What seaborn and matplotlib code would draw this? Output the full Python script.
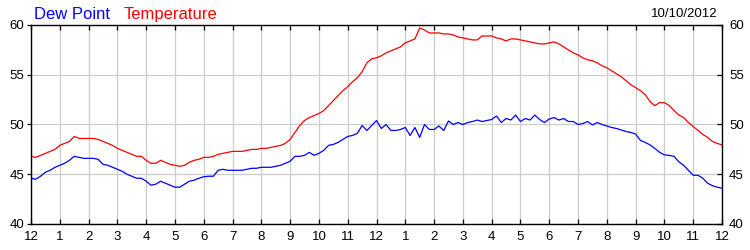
import numpy as np
import pandas as pd
import matplotlib
matplotlib.use("Agg")
import matplotlib.pyplot as plt
import seaborn as sns

# 10-minute readings, midnight to midnight
temperature = [
    46.8, 46.7, 46.9, 47.1, 47.3, 47.5,
    47.9, 48.1, 48.3, 48.8, 48.6, 48.6,
    48.6, 48.6, 48.5, 48.3, 48.1, 47.9,
    47.6, 47.4, 47.2, 47.0, 46.8, 46.8,
    46.4, 46.1, 46.1, 46.4, 46.2, 46.0,
    45.9, 45.8, 45.9, 46.2, 46.4, 46.5,
    46.7, 46.7, 46.8, 47.0, 47.1, 47.2,
    47.3, 47.3, 47.3, 47.4, 47.5, 47.5,
    47.6, 47.6, 47.7, 47.8, 47.9, 48.1,
    48.5, 49.2, 49.9, 50.4, 50.7, 50.9,
    51.1, 51.4, 51.9, 52.4, 52.9, 53.4,
    53.8, 54.3, 54.7, 55.3, 56.2, 56.6,
    56.7, 56.9, 57.2, 57.4, 57.6, 57.8,
    58.2, 58.4, 58.6, 59.7, 59.5, 59.2,
    59.2, 59.2, 59.1, 59.1, 59.0, 58.8,
    58.7, 58.6, 58.5, 58.5, 58.9, 58.9,
    58.9, 58.7, 58.6, 58.4, 58.6, 58.6,
    58.5, 58.4, 58.3, 58.2, 58.1, 58.1,
    58.2, 58.3, 58.1, 57.8, 57.5, 57.2,
    57.0, 56.7, 56.5, 56.4, 56.2, 55.9,
    55.7, 55.4, 55.1, 54.8, 54.4, 54.0,
    53.7, 53.4, 53.0, 52.3, 51.9, 52.2,
    52.2, 51.9, 51.4, 50.95, 50.7, 50.2,
    49.8, 49.4, 49.0, 48.7, 48.3, 48.1,
    47.95,
]
dew_point = [
    44.6, 44.5, 44.8, 45.2, 45.4, 45.7,
    45.9, 46.1, 46.4, 46.8, 46.7, 46.6,
    46.6, 46.6, 46.5, 46.0, 45.9, 45.7,
    45.5, 45.3, 45.0, 44.8, 44.6, 44.6,
    44.3, 43.9, 44.0, 44.3, 44.1, 43.9,
    43.7, 43.7, 44.0, 44.3, 44.4, 44.6,
    44.75, 44.8, 44.8, 45.4, 45.5, 45.4,
    45.4, 45.4, 45.4, 45.5, 45.6, 45.6,
    45.7, 45.7, 45.7, 45.8, 45.9, 46.1,
    46.3, 46.8, 46.8, 46.9, 47.2, 46.9,
    47.1, 47.4, 47.9, 48.0, 48.2, 48.5,
    48.8, 48.9, 49.1, 49.9, 49.4, 49.9,
    50.4, 49.6, 50.0, 49.4, 49.4, 49.5,
    49.7, 48.9, 49.7, 48.7, 50.0, 49.5,
    49.5, 49.85, 49.4, 50.35, 50.0, 50.2,
    50.0, 50.2, 50.3, 50.45, 50.3, 50.4,
    50.5, 50.85, 50.2, 50.6, 50.45, 50.95,
    50.3, 50.6, 50.45, 50.95, 50.5, 50.2,
    50.55, 50.7, 50.45, 50.6, 50.3, 50.3,
    50.0, 50.1, 50.3, 49.95, 50.2, 50.0,
    49.85, 49.7, 49.6, 49.45, 49.3, 49.2,
    49.05, 48.4, 48.2, 47.95, 47.6, 47.2,
    46.95, 46.9, 46.8, 46.25, 45.9, 45.4,
    44.9, 44.9, 44.6, 44.1, 43.85, 43.7,
    43.6,
]
hour_labels = ["12", "1", "2", "3", "4", "5", "6", "7", "8", "9", "10", "11",
               "12", "1", "2", "3", "4", "5", "6", "7", "8", "9", "10", "11", "12"]
y_ticks = [40, 45, 50, 55, 60]
date_label = "10/10/2012"

hours = np.arange(len(temperature)) / 6.0
df = pd.DataFrame({"hour": hours, "Temperature": temperature, "Dew Point": dew_point})

sns.set_style("white")
plt.rcParams["font.family"] = ["Liberation Sans", "DejaVu Sans"]

fig = plt.figure(figsize=(7.5, 2.5), dpi=100)
ax = fig.add_axes([31 / 750, 1 - 224 / 250, 691 / 750, 199 / 250])

sns.lineplot(data=df, x="hour", y="Temperature", ax=ax, color="#ff0000", linewidth=0.9)
sns.lineplot(data=df, x="hour", y="Dew Point", ax=ax, color="#0000ff", linewidth=0.9)

ax.set_xlim(0, 24)
ax.set_ylim(40, 60)
ax.set_xticks(range(25))
ax.set_xticklabels(hour_labels)
ax.set_yticks(y_ticks)
ax.set_xlabel("")
ax.set_ylabel("")
ax.grid(True, color="#cccccc", linewidth=0.9)
ax.set_axisbelow(True)
for s in ax.spines.values():
    s.set_color("black")
    s.set_linewidth(1.0)

ax.tick_params(axis="x", which="both", direction="in", top=True, bottom=True,
               length=3.5, width=0.9, colors="black", labelsize=9.5, pad=5)
ax.tick_params(axis="y", which="both", direction="out", left=True, length=3,
               width=0.9, colors="black", labelsize=9.5, pad=2)

ax2 = ax.twinx()
ax2.set_ylim(40, 60)
ax2.set_yticks(y_ticks)
ax2.tick_params(axis="y", direction="in", right=True, length=3.5, width=0.9,
                colors="black", labelsize=9.5, pad=5)
for s in ax2.spines.values():
    s.set_visible(False)

fig.text(34 / 750, 1 - 19 / 250, "Dew Point", color="#0000ff", fontsize=12, ha="left", va="baseline")
fig.text(124 / 750, 1 - 19 / 250, "Temperature", color="#ff0000", fontsize=12, ha="left", va="baseline")
fig.text(718 / 750, 1 - 17 / 250, date_label, color="black", fontsize=9.5, ha="right", va="baseline")

fig.savefig("out.png", dpi=100)
